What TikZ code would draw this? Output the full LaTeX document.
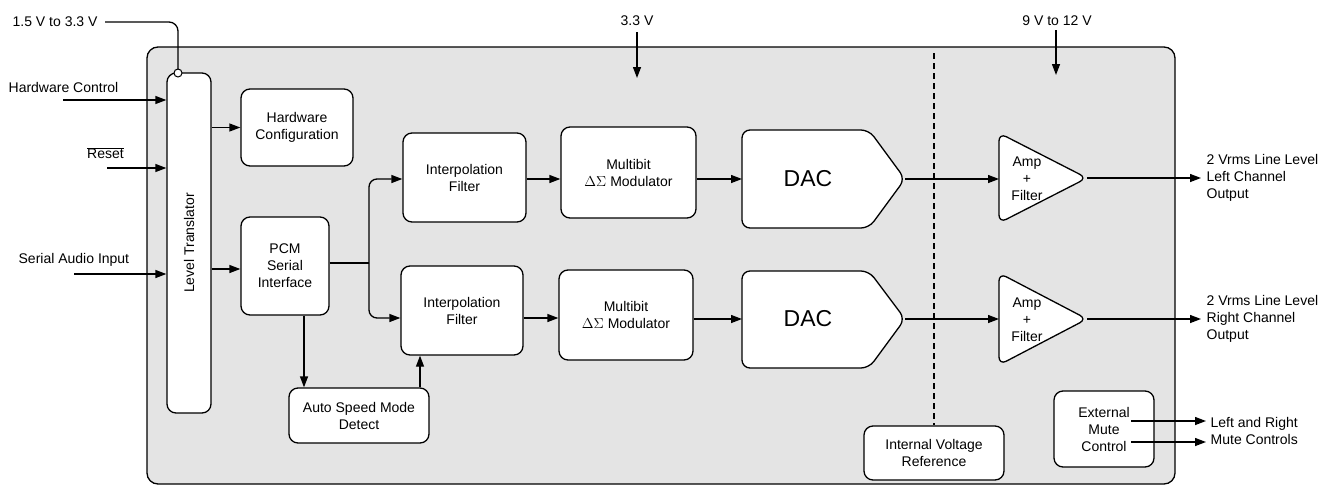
\documentclass[tikz,border=0pt]{standalone}
\usepackage{fontspec}
\setmainfont{Liberation Sans}
\usetikzlibrary{arrows.meta,calc}
\definecolor{chipgray}{RGB}{228,228,228}
\begin{document}
\begin{tikzpicture}[x=1pt,y=-1pt,line width=1.3pt,
  every node/.style={font=\fontsize{14}{17}\selectfont, align=center, inner sep=0pt},
  blk/.style={draw, fill=white, rounded corners=9pt},
  arr/.style={-{Triangle[length=11pt,width=8pt]}},
  txtl/.style={anchor=west, align=left},
  dacfont/.style={font=\fontsize{23}{26}\selectfont}]
\useasboundingbox (0,0) rectangle (1336,485);
% chip body
\node[draw, fill=chipgray, rounded corners=11pt, minimum width=1028pt, minimum height=437pt] (chip) at (661,265.5) {};
% blocks
\node[blk, minimum width=44pt, minimum height=340pt] (lt) at (189,243) {};
\node[rotate=90] (ltt) at (lt) {Level Translator};
\node[blk, minimum width=112pt, minimum height=77pt] (hw) at (297,127.5) {Hardware\\Configuration};
\node[blk, minimum width=88pt, minimum height=98pt] (pcm) at (285,266) {PCM\\Serial\\Interface};
\node[blk, minimum width=140pt, minimum height=55pt] (asd) at (359,415.5) {Auto Speed Mode\\Detect};
\node[blk, minimum width=123pt, minimum height=89pt] (if1) at (464.5,177.5) {Interpolation\\Filter};
\node[blk, minimum width=122pt, minimum height=89pt] (if2) at (462,310.5) {Interpolation\\Filter};
\node[blk, minimum width=135pt, minimum height=91pt] (mod1) at (628.5,172.5) {Multibit\\$\Delta\Sigma$ Modulator};
\node[blk, minimum width=134pt, minimum height=90pt] (mod2) at (626,315) {Multibit\\$\Delta\Sigma$ Modulator};
\node[blk, minimum width=140pt, minimum height=54pt] (ivr) at (934,453) {Internal Voltage\\Reference};
\node[blk, minimum width=100pt, minimum height=76pt] (emc) at (1104,429) {External\\Mute\\Control};
% DAC shapes
\draw[fill=white, rounded corners=8pt] (742,179) -- (742,130) -- (869,130) -- (905,179) -- (869,228) -- (742,228) -- cycle;
\draw[fill=white, rounded corners=8pt] (742,319) -- (742,271) -- (869,271) -- (905,319) -- (869,368) -- (742,368) -- cycle;
\node[dacfont] (dac1) at (808,179) {DAC};
\node[dacfont] (dac2) at (808,319) {DAC};
\coordinate (dac1in) at (742,179);
\coordinate (dac1out) at (905,179);
\coordinate (dac2in) at (742,319);
\coordinate (dac2out) at (905,319);
% amp shapes
\draw[fill=white, rounded corners=8pt] (999,178) -- (999,133) -- (1087,178) -- (999,223) -- cycle;
\draw[fill=white, rounded corners=8pt] (999,319) -- (999,273) -- (1087,319) -- (999,365) -- cycle;
\node (amp1) at (1027,179) {Amp\\+\\Filter};
\node (amp2) at (1027,320) {Amp\\+\\Filter};
\coordinate (amp1in) at (999,179);
\coordinate (amp1out) at (1087,178);
\coordinate (amp2in) at (999,319);
\coordinate (amp2out) at (1087,319);
% dashed divider
\coordinate (dtop) at (934,53);
\draw[dash pattern=on 6pt off 4pt] (dtop) -- (ivr.north);
% external labels
\node[txtl] (v15) at (12,22) {1.5 V to 3.3 V};
\node[txtl] (hwc) at (8,87) {Hardware Control};
\node (rst) at (105.5,153) {$\overline{\hbox{Reset}}$};
\node[txtl] (sai) at (18,260) {Serial Audio Input};
\node (v33) at (637,21) {3.3 V};
\node (v912) at (1057,21) {9 V to 12 V};
\node[txtl] (outl) at (1206,178) {2 Vrms Line Level\\Left Channel\\Output};
\node[txtl] (outr) at (1206,319) {2 Vrms Line Level\\Right Channel\\Output};
\node[txtl] (mute) at (1210,431) {Left and Right\\Mute Controls};
% input arrows
\coordinate (hwcs) at (63,100);
\coordinate (rsts) at (107,168);
\coordinate (sais) at (74,274);
\draw[arr] (hwcs) -- (hwcs -| lt.west);
\draw[arr] (rsts) -- (rsts -| lt.west);
\draw[arr] (sais) -- (sais -| lt.west);
% 1.5V supply
\coordinate (ltc) at (178,69);
\draw[rounded corners=9pt] ($(v15.east)+(7,0)$) -| (ltc);
\draw[fill=white, line width=1pt] (178,73) circle (4pt);
% supply arrows
\coordinate (v33e) at (637,78);
\coordinate (v912e) at (1056,75);
\draw[arr] (637,32) -- (v33e);
\draw[arr] (1056,30) -- (v912e);
% internal connections
\draw[arr] (lt.east |- hw) -- (hw);
\coordinate (r0) at (0,269);
\draw[arr] (lt.east |- r0) -- (pcm.west |- r0);
\coordinate (split) at (369,263);
\coordinate (r1) at (0,179);
\coordinate (r2) at (0,318);
\draw (pcm.east |- split) -- (split);
\draw[arr, rounded corners=8pt] (split) |- (if1.west |- r1);
\draw[arr, rounded corners=8pt] (split) |- (if2.west |- r2);
\coordinate (pd) at (304,0);
\coordinate (au) at (420,0);
\draw[arr] (pcm.south -| pd) -- (asd.north -| pd);
\draw[arr] (asd.north -| au) -- (if2.south -| au);
\draw[arr] (if1.east |- r1) -- (mod1.west |- r1);
\draw[arr] (if2.east |- r2) -- (mod2.west |- r2);
\draw[arr] (mod1.east |- dac1in) -- (dac1in);
\draw[arr] (mod2.east |- dac2in) -- (dac2in);
\draw[arr] (dac1out) -- (amp1in);
\draw[arr] (dac2out) -- (amp2in);
\draw[arr] (amp1out) -- ($(amp1out -| outl.west)+(-5,0)$);
\draw[arr] (amp2out) -- ($(amp2out -| outr.west)+(-5,0)$);
% mute arrows
\coordinate (m1) at (1131,421);
\coordinate (m2) at (1131,442);
\draw[arr] (m1) -- ($(m1 -| mute.west)+(-4,0)$);
\draw[arr] (m2) -- ($(m2 -| mute.west)+(-4,0)$);
\end{tikzpicture}
\end{document}
